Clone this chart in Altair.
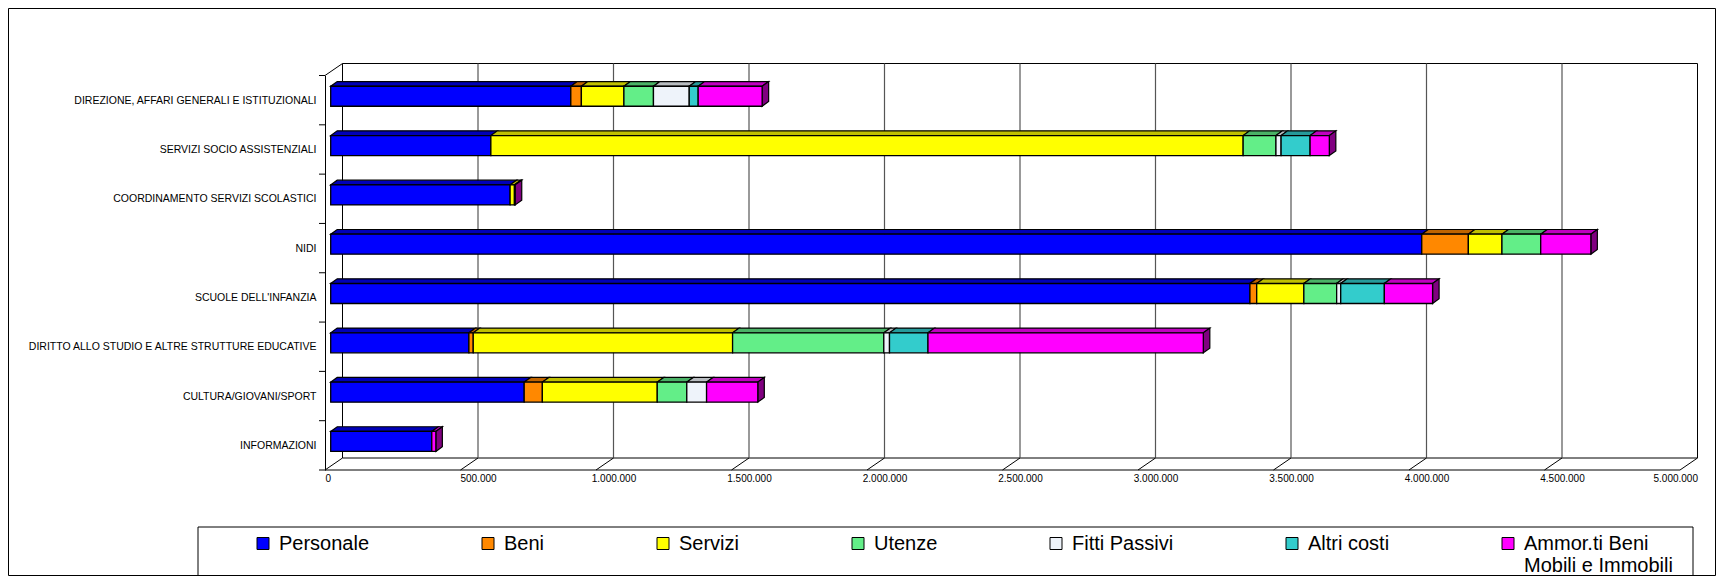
import json
import numpy as np
import pandas as pd
import altair as alt

# ---------------- data ----------------
categories = [
    "DIREZIONE, AFFARI GENERALI E ISTITUZIONALI",
    "SERVIZI SOCIO ASSISTENZIALI",
    "COORDINAMENTO SERVIZI SCOLASTICI",
    "NIDI",
    "SCUOLE DELL'INFANZIA",
    "DIRITTO ALLO STUDIO E ALTRE STRUTTURE EDUCATIVE",
    "CULTURA/GIOVANI/SPORT",
    "INFORMAZIONI",
]
series = ["Personale", "Beni", "Servizi", "Utenze", "Fitti Passivi",
          "Altri costi", "Ammor.ti Beni Mobili e Immobili"]

personale = [886000, 591000, 662000, 4026000, 3392000, 510000, 714000, 373000]
beni      = [39000, 0, 0, 172000, 25000, 16000, 67000, 0]
servizi   = [157000, 2776000, 16000, 124000, 174000, 957000, 424000, 0]
utenze    = [109000, 121000, 0, 143000, 121000, 558000, 109000, 0]
fitti     = [132000, 19000, 0, 0, 15000, 21000, 73000, 0]
altri     = [33000, 107000, 0, 0, 161000, 142000, 0, 0]
ammor     = [236000, 71000, 3000, 185000, 178000, 1016000, 189000, 15000]

x_ticks = [0, 500000, 1000000, 1500000, 2000000, 2500000,
           3000000, 3500000, 4000000, 4500000, 5000000]

front_colors = ["#0000FF", "#FF8800", "#FFFF00", "#63EE88", "#EEF3FA", "#33CCCC", "#FF00FF"]
top_colors   = ["#0000B8", "#C06400", "#C0C000", "#4AB266", "#B8BCC0", "#269A9A", "#C000C0"]
side_color = "#800080"

# ---------------- geometry (pseudo 3D) ----------------
XMAX = 5000000
NROWS = len(categories)
PXW = 1355                         # pixels for 0..XMAX on the front plane
PX = XMAX / PXW                    # data units per pixel (x)
H = 394.5
PY = NROWS / H                     # data units per pixel (y)
BX, BY = 17.5 * PX, 12 * PY        # back wall offset
FX, FY = 5.7 * PX, 3.9 * PY        # bar front-face offset
DX, DY = 6.5 * PX, 4.7 * PY        # bar depth
HH = 10 * PY                       # half height of bar front face
W = PXW + 17.5                     # plot width incl. depth

table = [personale, beni, servizi, utenze, fitti, altri, ammor]
front, tops, sides = [], [], []
sid = 0
for i, cat in enumerate(categories):
    vals = [t[i] for t in table]
    last = max(k for k, v in enumerate(vals) if v > 0)
    start = 0
    yc = i + 0.5 - FY
    yt, yb = yc - HH, yc + HH
    for k, v in enumerate(vals):
        if v <= 0:
            continue
        a, b = start + FX, start + v + FX
        front.append(dict(cat=cat, series=series[k], value=v, x=a, x2=b, y=yt, y2=yb))
        xs = sorted([a, a + DX, b, b + DX])
        low = np.interp(xs, [a, b, b + DX], [yt, yt, yt - DY])
        up = np.interp(xs, [a, a + DX, b + DX], [yt, yt - DY, yt - DY])
        for xx, lo, hi in zip(xs, low, up):
            tops.append(dict(sid=sid, x=xx, y=lo, y2=hi, col=top_colors[k]))
        sid += 1
        if k == last:
            sides.append(dict(sid=sid, x=b, y=yb, y2=yt))
            sides.append(dict(sid=sid, x=b + DX, y=yb - DY, y2=yt - DY))
            sid += 1
        start += v

front_df = pd.DataFrame(front)
tops_df = pd.DataFrame(tops)
sides_df = pd.DataFrame(sides)

xs_ = alt.Scale(domain=[0, XMAX + BX], nice=False, zero=False)
ys_ = alt.Scale(domain=[NROWS, 0], nice=False, zero=False)
cat_js = json.dumps(categories)
tick_text = [f"{v:,}".replace(",", ".") for v in x_ticks]
label_pos = [x_ticks[0]] + [v + BX for v in x_ticks[1:]]

x_axis = alt.Axis(values=label_pos, grid=False, domain=False, ticks=False,
                  labelFontSize=10, labelFont="Liberation Sans",
                  labelColor="black", labelPadding=3, title=None,
                  labelExpr=f"{json.dumps(tick_text)}[round(datum.value / {x_ticks[1]})]")
y_axis = alt.Axis(values=[i + 0.5 for i in range(NROWS)], ticks=False, grid=False,
                  domainColor="black", domainWidth=1, labelFontSize=10.5, labelLimit=400,
                  labelFont="Liberation Sans", labelColor="black", labelPadding=9, title=None,
                  labelExpr=f"{cat_js}[floor(datum.value)]")


def X(f="x"):
    return alt.X(f"{f}:Q", scale=xs_, axis=x_axis, title=None)


def Y(f="y"):
    return alt.Y(f"{f}:Q", scale=ys_, axis=y_axis, title=None, stack=None)


# back wall
wall_df = pd.DataFrame([dict(x=BX, x2=XMAX + BX, y=-BY, y2=NROWS - BY)])
wall = alt.Chart(wall_df).mark_rect(fill="white", stroke="#000000", strokeWidth=1).encode(
    x=X(), x2="x2:Q", y=Y(), y2="y2:Q")

# gridlines on back wall
grid_df = pd.DataFrame(dict(x=[v + BX for v in x_ticks[1:-1]],
                            y=[-BY] * (len(x_ticks) - 2),
                            y2=[NROWS - BY] * (len(x_ticks) - 2)))
grid = alt.Chart(grid_df).mark_rule(color="#555555", strokeWidth=1.2).encode(
    x=X(), y=Y(), y2="y2:Q")

# floor lines (slanted), floor front edge, left wall top edge
floor_df = pd.DataFrame(dict(x=[v + BX for v in x_ticks] + [BX, 0],
                             x2=[v for v in x_ticks] + [0, XMAX],
                             y=[NROWS - BY] * len(x_ticks) + [-BY, NROWS],
                             y2=[NROWS] * len(x_ticks) + [0, NROWS]))
floor = alt.Chart(floor_df).mark_rule(color="#000000", strokeWidth=1).encode(
    x=X(), x2="x2:Q", y=Y(), y2="y2:Q")

# y axis ticks at category boundaries
ytick_df = pd.DataFrame(dict(y=list(range(NROWS + 1))))
yticks = alt.Chart(ytick_df).mark_rule(color="black", strokeWidth=1).encode(
    x=alt.value(-6), x2=alt.value(0), y=Y())

# top faces
top = alt.Chart(tops_df).mark_area(orient="vertical", stroke="black", strokeWidth=1.2,
                                   strokeJoin="miter").encode(
    x=X(), y=Y(), y2="y2:Q", detail="sid:N",
    fill=alt.Fill("col:N", scale=None))

# side faces
side = alt.Chart(sides_df).mark_area(orient="vertical", stroke="black", strokeWidth=1.2,
                                     fill=side_color).encode(
    x=X(), y=Y(), y2="y2:Q", detail="sid:N")

legend_labels = ("datum.label == 'Ammor.ti Beni Mobili e Immobili' ? "
                 "['Ammor.ti Beni', 'Mobili e Immobili'] : [datum.label, '']")

# front faces (legend)
fronts = alt.Chart(front_df).mark_rect(stroke="black", strokeWidth=1.3).encode(
    x=X(), x2="x2:Q", y=Y(), y2="y2:Q",
    fill=alt.Fill("series:N", scale=alt.Scale(domain=series, range=front_colors),
                  legend=alt.Legend(title=None, orient="none", legendX=-72, legendY=458,
                                    direction="horizontal", columns=7, columnPadding=108,
                                    symbolType="square", symbolSize=144,
                                    symbolStrokeColor="black", symbolStrokeWidth=1,
                                    labelFontSize=20, labelFont="Liberation Sans",
                                    labelColor="black", labelOffset=6, labelLimit=400,
                                    labelExpr=legend_labels)),
    tooltip=["cat:N", "series:N", "value:Q"],
)

# legend frame and outer frame (layout only)
frame_df = pd.DataFrame([dict(k=1)])
legend_box = alt.Chart(frame_df).mark_rect(fill="transparent", stroke="black", strokeWidth=1).encode(
    x=alt.value(198 - 325), x2=alt.value(1693 - 325), y=alt.value(527 - 75.5), y2=alt.value(575.5 - 75.5))
outer_box = alt.Chart(frame_df).mark_rect(fill="transparent", stroke="black", strokeWidth=1).encode(
    x=alt.value(-316.5), x2=alt.value(1390.5), y=alt.value(-67), y2=alt.value(500))

chart = alt.layer(outer_box, wall, grid, floor, yticks, top, side, fronts, legend_box).properties(
    width=W, height=H,
    autosize=alt.AutoSizeParams(type="none"),
    padding={"left": 317, "top": 67.5, "right": 1708 - 317 - W, "bottom": 106},
    background="white",
).configure_view(strokeWidth=0)

chart.save("out.html", embed_options={"renderer": "svg", "actions": False})
